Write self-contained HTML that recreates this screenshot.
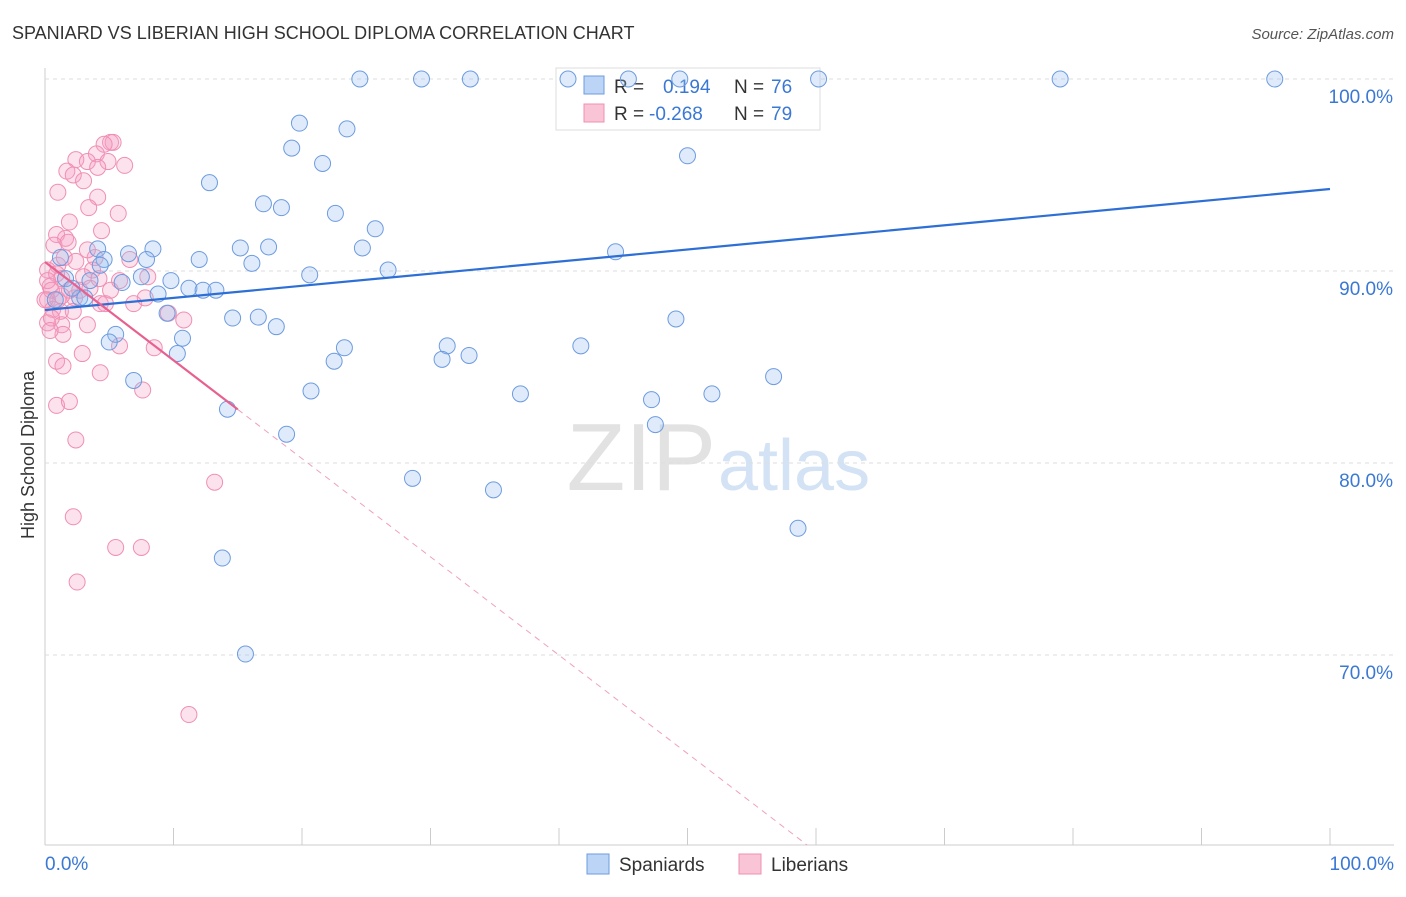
<!DOCTYPE html>
<html><head><meta charset="utf-8"><style>
body{margin:0;background:#fff;font-family:"Liberation Sans",sans-serif;}
svg text{font-family:"Liberation Sans",sans-serif;}
</style></head><body>
<svg id="chart" width="1406" height="892">
<text x="12" y="39" font-size="18" fill="#333">SPANIARD VS LIBERIAN HIGH SCHOOL DIPLOMA CORRELATION CHART</text>
<text x="1394" y="39" font-size="15" fill="#555" font-style="italic" text-anchor="end">Source: ZipAtlas.com</text>
<text x="716" y="490" font-size="96" fill="#e2e2e2" font-family="Liberation Serif" text-anchor="end">ZIP</text>
<text x="718" y="490" font-size="72" fill="#d3e2f4">atlas</text>
<text transform="translate(34,455) rotate(-90)" font-size="18" fill="#333" text-anchor="middle">High School Diploma</text>
<g id="grid"></g>
<g>
<rect x="556" y="68" width="264" height="62" fill="#fff" stroke="#ddd"/>
<rect x="584" y="76" width="20" height="18" fill="#bcd4f5" stroke="#6d9be0"/>
<rect x="584" y="104" width="20" height="18" fill="#f9c4d6" stroke="#f08fb3"/>
<text x="614" y="93" font-size="19" fill="#333">R = </text><text x="663" y="93" font-size="19" fill="#3a78d4">0.194</text>
<text x="734" y="93" font-size="19" fill="#333">N = </text><text x="771" y="93" font-size="19" fill="#3a78d4">76</text>
<text x="614" y="120" font-size="19" fill="#333">R = </text><text x="649" y="120" font-size="19" fill="#3a78d4">-0.268</text>
<text x="734" y="120" font-size="19" fill="#333">N = </text><text x="771" y="120" font-size="19" fill="#3a78d4">79</text>
</g>
<g id="pts"></g><g id="lines"></g>
<g>
<rect x="587" y="854" width="22" height="20" fill="#bcd4f5" stroke="#6d9be0"/>
<text x="619" y="871" font-size="19" fill="#333">Spaniards</text>
<rect x="739" y="854" width="22" height="20" fill="#f9c4d6" stroke="#f08fb3"/>
<text x="771" y="871" font-size="19" fill="#333">Liberians</text>
</g>
</svg>
<script>
const blueX=[24.5,29.3,33.1,40.7,45.4,49.4,60.2,79.0,95.7,19.8,23.5,19.2,21.6,50.0,12.8,17.0,18.4,22.6,25.7,15.2,17.4,8.4,6.5,4.1,4.6,7.9,12.0,16.1,24.7,44.4,26.7,20.6,7.5,9.8,6.0,3.5,1.6,11.2,12.3,13.3,8.8,2.7,3.1,9.5,14.6,16.6,18.0,49.1,5.5,5.0,10.7,10.3,23.3,22.5,31.3,30.9,33.0,41.7,6.9,20.7,56.7,37.0,51.9,47.2,47.5,14.2,18.8,28.6,34.9,58.6,13.8,15.6,2.1,4.3,0.8,1.2];
const blueY=[100,100,100,100,100,100,100,100,100,97.7,97.4,96.4,95.6,96.0,94.6,93.5,93.3,93.0,92.2,91.2,91.25,91.15,90.9,91.15,90.6,90.6,90.6,90.4,91.2,91.0,90.05,89.8,89.7,89.5,89.4,89.5,89.6,89.1,89.0,89.0,88.8,88.6,88.6,87.8,87.55,87.6,87.1,87.5,86.7,86.3,86.5,85.7,86.0,85.3,86.1,85.4,85.6,86.1,84.3,83.75,84.5,83.6,83.6,83.3,82.0,82.8,81.5,79.2,78.6,76.6,75.05,70.05,89.1,90.3,88.5,90.7];
const pinkX=[5.1,5.3,4.6,4.0,6.2,2.4,3.3,4.9,1.7,4.1,2.2,3.0,1.0,4.1,3.4,5.7,1.9,0.9,1.6,4.4,0.7,1.8,1.0,3.9,1.5,2.4,0.2,0.9,3.7,8.0,3.0,4.2,1.3,0.4,2.3,4.3,4.7,6.9,7.8,0.2,0.6,1.2,2.2,9.6,10.8,3.3,0.2,1.3,0.5,1.4,5.8,8.5,2.9,0.9,1.4,4.3,7.6,0.9,1.9,2.4,13.2,2.2,5.5,7.5,2.5,11.2,0.2,0.5,1.0,1.9,2.7,3.5,0,0.4,1.3,5.1,5.8,6.6,3.3];
const pinkY=[96.7,96.7,96.6,96.1,95.5,95.8,95.7,95.7,95.2,95.4,95.0,94.7,94.1,93.85,93.3,93.0,92.55,91.9,91.7,92.1,91.35,91.5,90.3,90.7,90.7,90.5,90.05,89.85,90.05,89.7,89.7,89.6,89.6,89.2,88.6,88.3,88.3,88.3,88.6,88.5,88.0,87.9,87.9,87.8,87.45,87.2,87.3,87.2,87.55,86.7,86.1,86.0,85.7,85.3,85.05,84.7,83.8,83.0,83.2,81.2,79.0,77.2,75.6,75.6,73.8,66.9,89.5,89.0,88.5,89.0,89.0,89.1,88.5,86.9,88.7,89.0,89.5,90.6,91.1];
const blueTrend=[87.97,0.063];
const pinkTrend=[90.47,-0.512];
const yTicks=[100,90,80,70];
const yTickLabels=["100.0%","90.0%","80.0%","70.0%"];
const xTicks=[0,10,20,30,40,50,60,70,80,90,100];

const NS="http://www.w3.org/2000/svg";
const sx=v=>45+v*12.85, sy=v=>79+(100-v)*19.2;
function mk(tag,attrs,parent){const e=document.createElementNS(NS,tag);for(const k in attrs)e.setAttribute(k,attrs[k]);parent.appendChild(e);return e;}
const grid=document.getElementById('grid'),pts=document.getElementById('pts'),lines=document.getElementById('lines');
mk('line',{x1:45,y1:68,x2:45,y2:845,stroke:'#ccc'},grid);
mk('line',{x1:45,y1:845,x2:1394,y2:845,stroke:'#ccc'},grid);
yTicks.forEach((t,i)=>{
 const l=mk('line',{x1:45,x2:1394,y1:sy(t),y2:sy(t),stroke:'#ddd','stroke-dasharray':'4,4'},grid);
 
 
 const tx=mk('text',{x:1393,y:sy(t)+24,'text-anchor':'end','font-size':19,fill:'#3a78d4'},grid);tx.textContent=yTickLabels[i];
 
 
});
xTicks.forEach(t=>{
 const l=mk('line',{x1:sx(t),x2:sx(t),y1:828,y2:845,stroke:'#ccc'},grid);
 
 
});
const xl0=mk('text',{x:45,y:870,'font-size':19,fill:'#3a78d4'},grid);xl0.textContent='0.0%';


const xl1=mk('text',{x:1394,y:870,'font-size':19,fill:'#3a78d4','text-anchor':'end'},grid);xl1.textContent='100.0%';


pinkX.forEach((x,i)=>{
 const c=mk('circle',{cx:sx(x),cy:sy(pinkY[i]),r:8,fill:'rgba(245,160,195,0.3)',stroke:'#f08fb3','stroke-width':1},pts);
 
 
});
blueX.forEach((x,i)=>{
 const c=mk('circle',{cx:sx(x),cy:sy(blueY[i]),r:8,fill:'rgba(150,190,240,0.3)',stroke:'#6d9be0','stroke-width':1},pts);
 
 
});
const bl=mk('line',{x1:sx(0),y1:sy(blueTrend[0]),x2:sx(100),y2:sy(blueTrend[0]+blueTrend[1]*100),stroke:'#2e6fd6','stroke-width':2.2},lines);


const pEnd=15, yMin=100-(845-79)/19.2, xBottom=(yMin-pinkTrend[0])/pinkTrend[1];
const pl=mk('line',{x1:sx(0),y1:sy(pinkTrend[0]),x2:sx(pEnd),y2:sy(pinkTrend[0]+pinkTrend[1]*pEnd),stroke:'#e8608f','stroke-width':2.2},lines);


const pd=mk('line',{x1:sx(pEnd),y1:sy(pinkTrend[0]+pinkTrend[1]*pEnd),x2:sx(xBottom),y2:sy(yMin),stroke:'#f0a0bd','stroke-width':1,'stroke-dasharray':'6,5'},lines);


</script>
</body></html>
